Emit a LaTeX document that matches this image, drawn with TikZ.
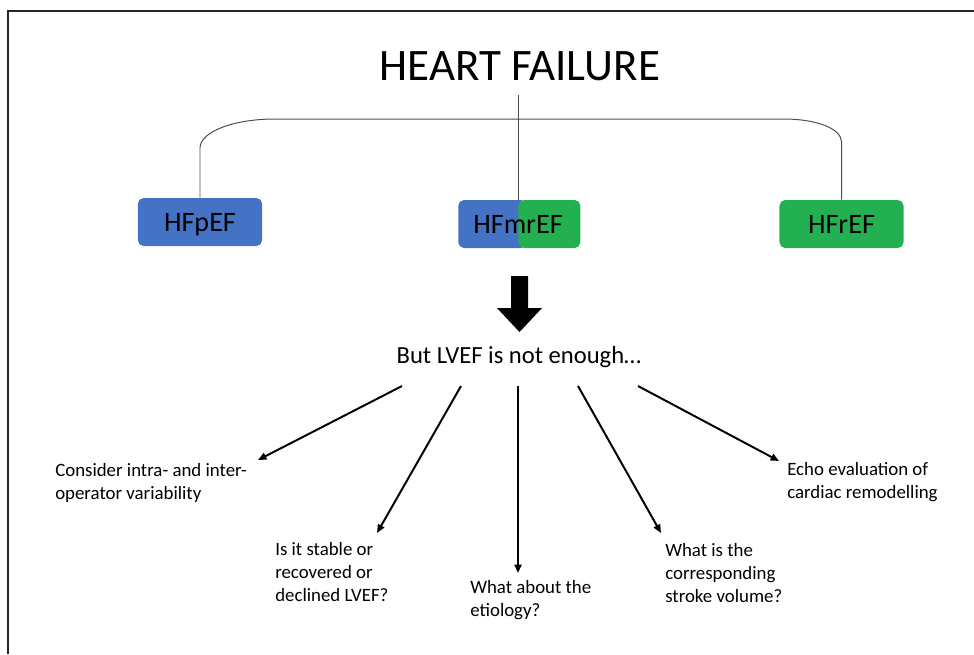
\documentclass[tikz,border=0pt]{standalone}
\usepackage{fontspec}
\setmainfont{Carlito}
\usetikzlibrary{arrows.meta,positioning}

\definecolor{hfblue}{RGB}{68,114,196}
\definecolor{hfgreen}{RGB}{35,176,80}

\begin{document}
\begin{tikzpicture}[
    x=0.025cm, y=-0.025cm,
    typebox/.style={rectangle, rounded corners=4pt, minimum width=3.1cm, minimum height=1.2cm, text height=12.8pt, text depth=0pt, font=\fontsize{20}{24}\selectfont},
    title/.style={font=\fontsize{32}{38}\selectfont, inner ysep=10.5pt},
    lead/.style={font=\fontsize{17.5}{21}\selectfont},
    question/.style={align=left, inner sep=0pt, anchor=north west, font=\fontsize{13.4}{16.3}\selectfont},
    branch/.style={draw=black!70, line width=0.7pt},
    arrow/.style={line width=1.4pt, -{Triangle[length=6pt, width=5pt]}},
    frame/.style={draw=black!85, line width=1.4pt}
]

\useasboundingbox (0,0) rectangle (974,654);

% Frame
\draw[frame] (8,654) -- (8,11) -- (974,11);

% Title
\node[title, anchor=base] (title) at (520,80) {HEART FAILURE};

% HF types
\node[typebox, fill=hfblue] (pef) at (200,222) {HFpEF};
\node[typebox, fill=hfgreen] (ref) at (841.5,224) {HFrEF};
\node[typebox, fill=hfblue, minimum width=1.7cm, anchor=west] (mrb) at (458,224) {};
\node[typebox, fill=hfgreen, minimum width=1.55cm, anchor=west] (mrg) at (518,224) {};
\node[typebox] (mr) at (518,224) {HFmrEF};

% Bracket
\draw[branch] (title.south -| mrg.north west) -- (mrg.north west);
\draw[branch] (pef.north) -- (200,148) .. controls (200,132) and (233,119) .. (275,119)
    -- (783,119) .. controls (818,119) and (841.5,129) .. (841.5,142) -- (ref.north);

% Big arrow
\fill (511,276) -- (528,276) -- (528,308) -- (542,308) -- (519.5,332) -- (497,308) -- (511,308) -- cycle;

% But LVEF
\node[lead, anchor=base] (lead) at (519,363) {But LVEF is not enough…};

% Questions
\node[question] (q1) at (55,463) {Consider intra- and inter-\\operator variability};
\node[question] (q2) at (275,542) {Is it stable or\\recovered or\\declined LVEF?};
\node[question] (q3) at (470,580) {What about the\\etiology?};
\node[question] (q4) at (665,543) {What is the\\corresponding\\stroke volume?};
\node[question] (q5) at (787,462) {Echo evaluation of\\cardiac remodelling};

% Arrow ends
\coordinate (s1) at (402,386);
\coordinate (s2) at (461,386);
\coordinate (s3) at (518,386);
\coordinate (s4) at (578,386);
\coordinate (s5) at (638,386);
\coordinate (e1) at (258,460);
\coordinate (e2) at (377,533);
\coordinate (e3) at (518,573);
\coordinate (e4) at (661,533);
\coordinate (e5) at (779,461);

% Arrows
\draw[arrow] (s1) -- (e1);
\draw[arrow] (s2) -- (e2);
\draw[arrow] (s3) -- (e3);
\draw[arrow] (s4) -- (e4);
\draw[arrow] (s5) -- (e5);

\end{tikzpicture}
\end{document}
